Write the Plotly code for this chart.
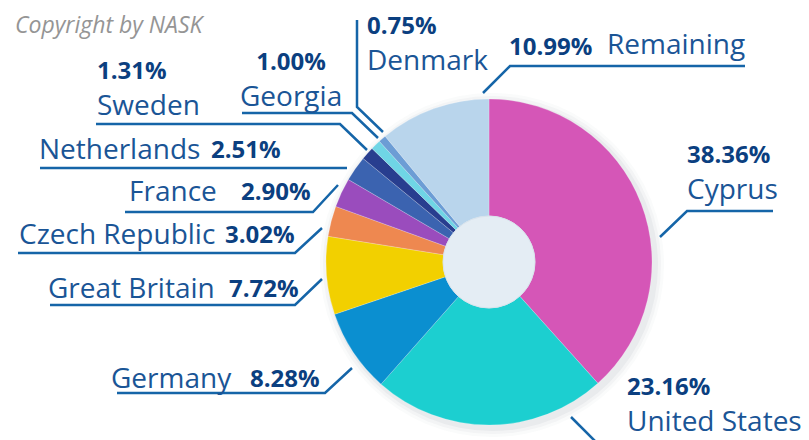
import plotly.graph_objects as go

# ---------------- data ----------------
countries = ["Cyprus", "United States", "Germany", "Great Britain", "Czech Republic",
             "France", "Netherlands", "Sweden", "Georgia", "Denmark", "Remaining"]
shares = [38.36, 23.16, 8.28, 7.72, 3.02, 2.90, 2.51, 1.31, 1.00, 0.75, 10.99]
colors = ["#d556b7", "#1ccfd0", "#0b8fd0", "#f2d000", "#ee8850",
          "#9a4cbd", "#3b63b0", "#283e8f", "#6fd5e5", "#6c9dd5", "#b9d5ec"]
copyright_text = "Copyright by NASK"

# ---------------- layout constants (page pixels) ----------------
PAGE_W, PAGE_H = 809, 440
OFF = 8                      # default body margin of the html page
W, H = PAGE_W - OFF, PAGE_H - OFF
CX, CY, R, R_HOLE = 489, 262, 163, 46


def px(x):
    return (x - OFF) / W


def py(y):
    return 1 - (y - OFF) / H


NAME_COLOR = "#1a5596"
PCT_COLOR = "#0b3f80"
LINE_COLOR = "#1565a8"
NAME_SIZE = 28
PCT_SIZE = 24

# label placement per country:
#  ("stack", x, y_center, align, leader)  -> percentage above the name
#  ("inline", name (x, y, anchor), pct (x, y, anchor), leader)
label_layout = {
    "Cyprus": ("stack", 685, 172, "left", [(660, 237), (687, 211), (773, 211)]),
    "United States": ("stack", 625, 404, "left", [(571, 417), (595, 441)]),
    "Germany": ("inline", (234, 377, "right"), (248, 377, "left"),
                [(117, 393), (325, 393), (352, 368)]),
    "Great Britain": ("inline", (217, 287, "right"), (227, 287, "left"),
                      [(50, 305), (295, 305), (322, 279)]),
    "Czech Republic": ("inline", (217, 233, "right"), (223, 233, "left"),
                       [(18, 253), (295, 253), (322, 228)]),
    "France": ("inline", (219, 190, "right"), (239, 190, "left"),
               [(125, 212), (313, 212), (338, 185)]),
    "Netherlands": ("inline", (202, 148, "right"), (209, 148, "left"),
                    [(40, 168), (347, 168)]),
    "Sweden": ("stack", 95, 88, "left", [(96, 124), (340, 124), (367, 150)]),
    "Georgia": ("stack", 291, 79, "center", [(242, 113), (352, 113), (378, 138)]),
    "Denmark": ("stack", 365, 43, "left", [(357, 20), (357, 107), (383, 132)]),
    "Remaining": ("inline", (605, 43, "left"), (507, 45, "left"),
                  [(483, 93), (510, 66), (745, 66)]),
}

fig = go.Figure()

fig.add_trace(go.Pie(
    labels=countries,
    values=shares,
    marker=dict(colors=colors, line=dict(color="rgba(255,255,255,0.35)", width=0.6)),
    sort=False,
    direction="clockwise",
    rotation=0,
    hole=R_HOLE / R,
    textinfo="none",
    showlegend=False,
    domain=dict(x=[px(CX - R), px(CX + R)], y=[py(CY + R), py(CY - R)]),
))

shapes = []
# soft shadow behind the pie
for d, a in [(9, 0.025), (6, 0.035), (3, 0.05)]:
    shapes.append(dict(type="circle", xref="paper", yref="paper", layer="below",
                       x0=px(CX - R - d + 3), x1=px(CX + R + d + 3),
                       y0=py(CY + R + d + 3), y1=py(CY - R - d + 3),
                       fillcolor=f"rgba(60,70,90,{a})", line=dict(width=0)))
# light hole fill
shapes.append(dict(type="circle", xref="paper", yref="paper", layer="above",
                   x0=px(CX - R_HOLE), x1=px(CX + R_HOLE),
                   y0=py(CY + R_HOLE), y1=py(CY - R_HOLE),
                   fillcolor="#e4edf4", line=dict(color="#d8e3ec", width=1)))

annotations = [dict(text="<i>" + copyright_text + "</i>", x=px(13), y=py(24),
                    xref="paper", yref="paper",
                    xanchor="left", yanchor="middle", showarrow=False,
                    font=dict(family="Open Sans", size=23, color="#959595"))]

for name, val in zip(countries, shares):
    spec = label_layout[name]
    pct_txt = f"<b>{val:.2f}%</b>"
    if spec[0] == "stack":
        _, x, y, align, line = spec
        txt = (f"<span style='font-size:{PCT_SIZE}px;color:{PCT_COLOR}'>{pct_txt}</span>"
               f"<br>{name}")
        annotations.append(dict(text=txt, x=px(x), y=py(y), xref="paper", yref="paper",
                                xanchor=align, yanchor="middle", align=align,
                                showarrow=False,
                                font=dict(family="Open Sans", size=NAME_SIZE,
                                          color=NAME_COLOR)))
    else:
        _, npos, ppos, line = spec
        annotations.append(dict(text=name, x=px(npos[0]), y=py(npos[1]),
                                xref="paper", yref="paper",
                                xanchor=npos[2], yanchor="middle", showarrow=False,
                                font=dict(family="Open Sans", size=NAME_SIZE,
                                          color=NAME_COLOR)))
        annotations.append(dict(text=pct_txt, x=px(ppos[0]), y=py(ppos[1]),
                                xref="paper", yref="paper",
                                xanchor=ppos[2], yanchor="middle", showarrow=False,
                                font=dict(family="Open Sans", size=PCT_SIZE,
                                          color=PCT_COLOR)))
    path = "M " + " L ".join(f"{px(x):.5f},{py(y):.5f}" for x, y in line)
    shapes.append(dict(type="path", path=path, xref="paper", yref="paper",
                       line=dict(color=LINE_COLOR, width=2.5), layer="above"))

fig.update_layout(
    width=W, height=H,
    margin=dict(l=0, r=0, t=0, b=0),
    paper_bgcolor="white",
    plot_bgcolor="white",
    shapes=shapes,
    annotations=annotations,
)

fig.write_html("out.html")
